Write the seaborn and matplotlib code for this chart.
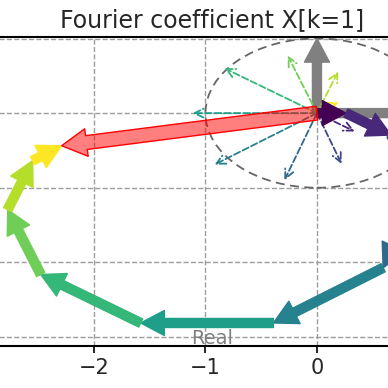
import numpy as np
import matplotlib
matplotlib.use('Agg')
import matplotlib.pyplot as plt
from matplotlib.patches import Circle
import seaborn as sns

# contribution of each sample n to X[k=1] (real / imaginary part)
n_idx = list(range(10))
term_re = [0.26, 0.405, 0.253, -0.324, -0.985, -1.19, -0.897, -0.296, 0.224, 0.26]
term_im = [0.0, -0.294, -0.78, -0.999, -0.74, 0.0, 0.65, 0.87, 0.656, 0.20]
xticks = [-3, -2, -1, 0, 1]
xticklabels = ['', '\u22122', '\u22121', '0', '']
yticks = [-3, -2, -1, 0, 1]
title = 'Fourier coefficient X[k=1]'

sns.set_style('whitegrid', {'grid.linestyle': '--', 'grid.color': '0.62',
                            'axes.edgecolor': 'black'})
plt.rcParams['font.family'] = ['DejaVu Sans']

fig = plt.figure(figsize=(3.88, 3.88), dpi=100)
ax = fig.add_axes([-0.2, 0.1095, 1.493, 0.7951])
ax.set_xlim(-3.539, 1.657)
ax.set_ylim(-3.115, 1.02)
ax.set_xticks(xticks)
ax.set_xticklabels(xticklabels)
ax.set_yticks(yticks)
ax.set_yticklabels([])
ax.grid(True, lw=1.0)
ax.tick_params(axis='x', bottom=True, length=5, width=1.2, color='black',
               labelsize=15, pad=4)
for s in ['top', 'bottom']:
    ax.spines[s].set_linewidth(1.5)

colors = plt.cm.viridis(np.linspace(0, 1, len(n_idx)))

# unit circle (shows as an ellipse, axes are not equal)
ax.add_patch(Circle((0, 0), 1, fill=False, ls=(0, (5, 3)), ec='0.4', lw=1.3, zorder=1))

# real / imaginary unit arrows
thick = dict(width=6.5, headwidth=18, headlength=17, shrink=0)
for tip in [(1, 0), (0, 1)]:
    ax.annotate('', xy=tip, xytext=(0, 0),
                arrowprops=dict(color='0.5', **thick), zorder=2)

# each term drawn from the origin
for n in n_idx:
    ax.annotate('', xy=(term_re[n], term_im[n]), xytext=(0, 0), zorder=3,
                arrowprops=dict(arrowstyle='->', linestyle='--', color=colors[n],
                                lw=1.3, shrinkA=0, shrinkB=6, mutation_scale=16))

# running sum, head to tail
cx = np.concatenate([[0], np.cumsum(term_re)])
cy = np.concatenate([[0], np.cumsum(term_im)])
for n in n_idx:
    ax.annotate('', xy=(cx[n + 1], cy[n + 1]), xytext=(cx[n], cy[n]), zorder=4,
                arrowprops=dict(color=colors[n], **thick))

# resulting coefficient
ax.annotate('', xy=(cx[-1], cy[-1]), xytext=(0, 0), zorder=5,
            arrowprops=dict(width=10, headwidth=20, headlength=18, shrink=0,
                            fc=(1, 0, 0, 0.5), ec='red', lw=1))

ax.text(0.5, 0.004, 'Real', transform=ax.transAxes, ha='center', va='baseline',
        color='0.5', fontsize=14, zorder=6)
ax.set_title(title, fontsize=17, pad=7)

fig.savefig('out.png', dpi=100)
